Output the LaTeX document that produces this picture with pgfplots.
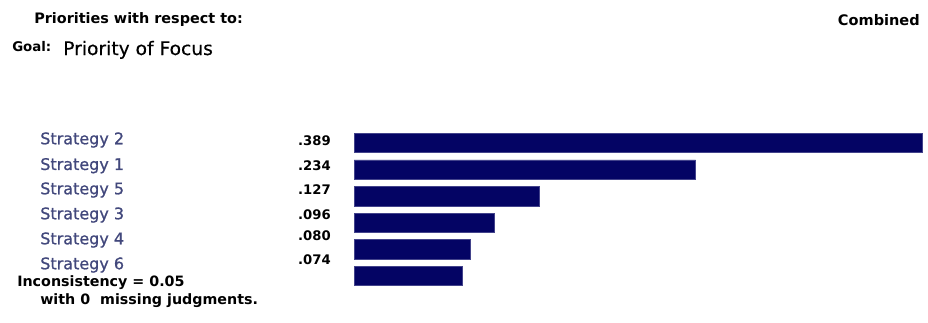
\documentclass[border=0pt]{standalone}
\usepackage{fontspec}
\setmainfont{DejaVu Sans}
\newfontfamily\labfont[FakeBold=0.9]{DejaVu Sans}
\newfontfamily\goalfont[FakeBold=0.4]{DejaVu Sans}
\usepackage{pgfplots}
\pgfplotsset{compat=1.18}
\definecolor{barnavy}{RGB}{4,4,100}
\definecolor{labslate}{RGB}{66,72,124}
\newcommand{\fs}[1]{\fontsize{#1}{#1}\selectfont}
\begin{document}
\begin{tikzpicture}[
  lab/.style={anchor=west, inner sep=0pt, text=labslate, font=\labfont\fs{12pt}},
  val/.style={anchor=east, inner sep=0pt, font=\fs{9.9pt}\bfseries},
]
\begin{axis}[
  scale only axis, width=696pt, height=241.5pt,
  xmin=-0.24247, xmax=0.39315, ymin=-1.7293, ymax=10.3759,
  hide axis, xbar, bar width=0.733, clip=false,
]
\path (rel axis cs:0,0) rectangle (rel axis cs:1,1);
\addplot[fill=barnavy, draw=barnavy!75!white, line width=0.5pt] coordinates {
  (0.389,5) (0.234,4) (0.127,3) (0.096,2) (0.080,1) (0.074,0)};
% headings
\node[anchor=west, inner sep=0pt, font=\fs{10.8pt}\bfseries] at (axis cs:-0.21918,9.624) {Priorities with respect to:};
\node[anchor=west, inner sep=0pt, font=\fs{10pt}\bfseries] at (axis cs:-0.23425,8.609) {Goal:};
\node[anchor=base west, inner sep=0pt, font=\goalfont\fs{14pt}] at (axis cs:-0.19932,8.308) {Priority of Focus};
\node[anchor=east, inner sep=0pt, font=\fs{10.9pt}\bfseries] at (axis cs:0.38767,9.624) {Combined};
% category labels
\node[lab] at (axis cs:-0.21507,5.113) {Strategy 2};
\node[lab] at (axis cs:-0.21507,4.147) {Strategy 1};
\node[lab] at (axis cs:-0.21507,3.233) {Strategy 5};
\node[lab] at (axis cs:-0.21507,2.293) {Strategy 3};
\node[lab] at (axis cs:-0.21507,1.353) {Strategy 4};
\node[lab] at (axis cs:-0.21507,0.414) {Strategy 6};
% value labels
\node[val] at (axis cs:-0.01575,5.087) {.389};
\node[val] at (axis cs:-0.01575,4.147) {.234};
\node[val] at (axis cs:-0.01575,3.233) {.127};
\node[val] at (axis cs:-0.01575,2.304) {.096};
\node[val] at (axis cs:-0.01575,1.504) {.080};
\node[val] at (axis cs:-0.01575,0.602) {.074};
% footer
\node[anchor=west, inner sep=0pt, font=\fs{10.7pt}\bfseries] at (axis cs:-0.23082,-0.263) {Inconsistency = 0.05};
\node[anchor=west, inner sep=0pt, font=\fs{10.7pt}\bfseries] at (axis cs:-0.21507,-0.940) {with 0\ \ missing judgments.};
\end{axis}
\end{tikzpicture}
\end{document}
